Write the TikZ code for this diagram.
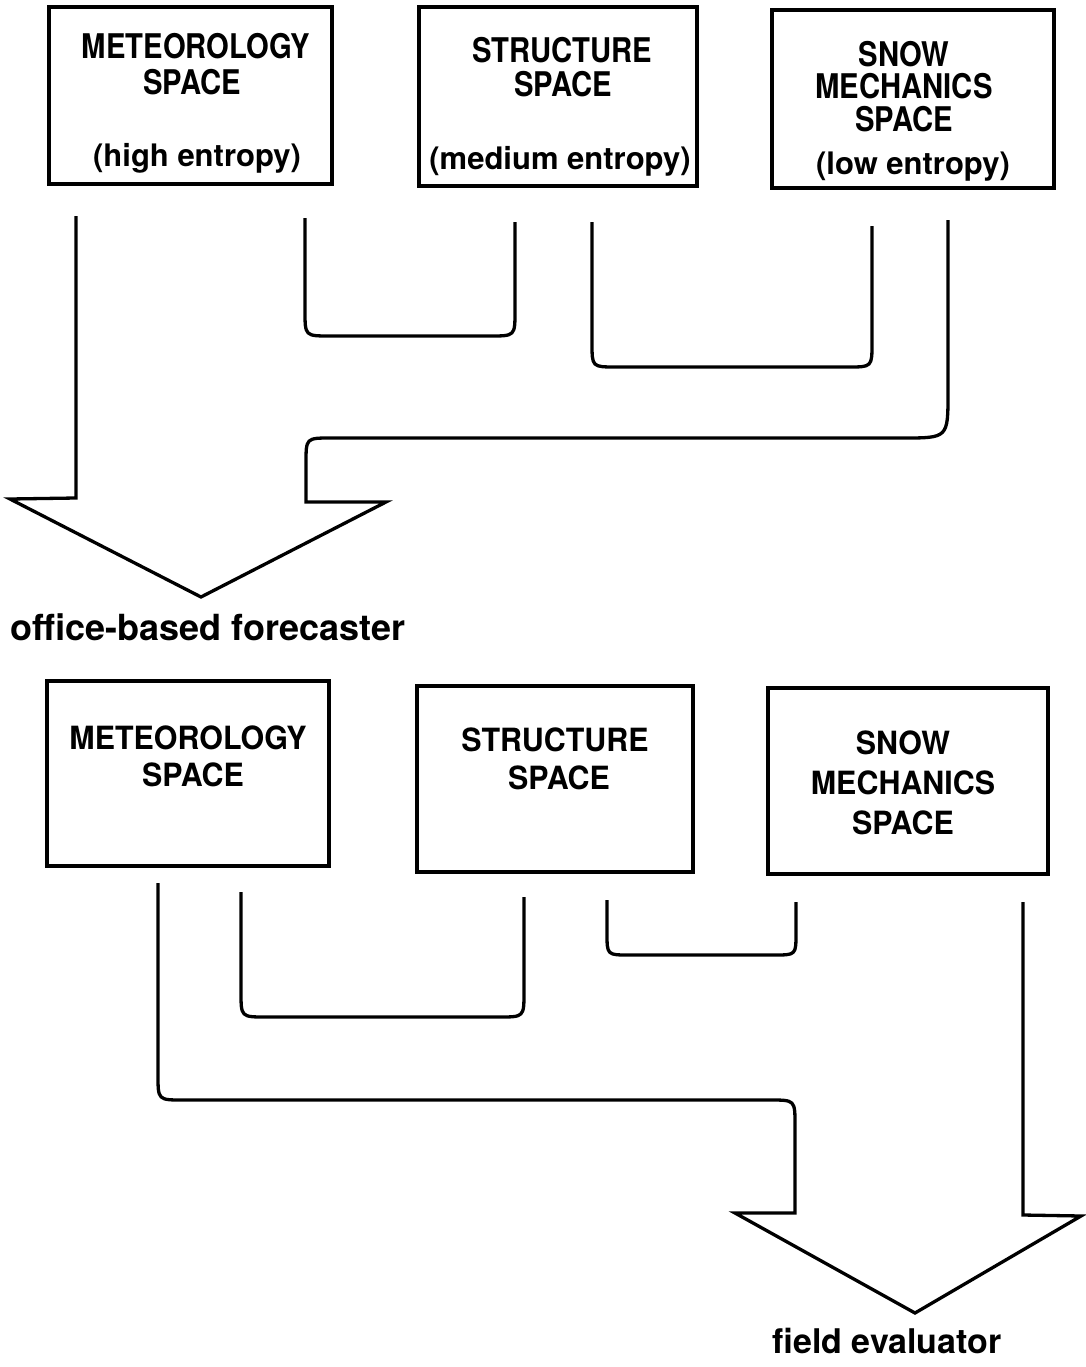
\documentclass[tikz,border=0pt]{standalone}
\usepackage{fontspec}
\setmainfont{TeX Gyre Heros}
\newfontfamily\capsA[FakeStretch=0.86]{TeX Gyre Heros}
\newfontfamily\capsB[FakeStretch=0.95]{TeX Gyre Heros}
\begin{document}
\begin{tikzpicture}[x=1pt,y=-1pt,
  box/.style={draw, line width=3.3pt, inner sep=0pt},
  capA/.style={font=\capsA\bfseries\fontsize{34}{32.5}\selectfont, inner sep=0pt, align=center},
  capB/.style={font=\capsB\bfseries\fontsize{32}{40}\selectfont, inner sep=0pt, align=center},
  lowtxt/.style={font=\bfseries\fontsize{31}{31}\selectfont, inner sep=0pt},
  role/.style={font=\bfseries\fontsize{36}{36}\selectfont, inner sep=0pt},
  conn/.style={draw, line width=3.3pt, line join=miter, line cap=butt}]
\useasboundingbox (0,0) rectangle (1085,1367);

% ---- top row boxes ----
\node[box, minimum width=283pt, minimum height=177pt] (b1) at (190.5,95.5) {};
\node[box, minimum width=278pt, minimum height=179pt] (b2) at (558,96.5) {};
\node[box, minimum width=282pt, minimum height=178pt] (b3) at (913,99) {};

\node[capA] (b1a) at (196,46) {METEOROLOGY};
\node[capA] (b1b) at (192,82) {SPACE};
\node[lowtxt] (b1c) at (197,158) {(high entropy)};

\node[capA] (b2a) at (562,50) {STRUCTURE};
\node[capA] (b2b) at (563,84) {SPACE};
\node[lowtxt] (b2c) at (560,161) {(medium entropy)};

\node[capA] (b3a) at (904,86.5) {SNOW\\MECHANICS\\SPACE};
\node[lowtxt] (b3d) at (913,167) {(low entropy)};

% ---- top connectors ----
\coordinate (mA) at (76,216);
\coordinate (sD) at (948,220);
\draw[conn] (mA) -- (76,498) -- (10,499) -- (201,597) -- (386,502) -- (306,502)
  -- (306,463) .. controls (306,438) .. (331,438) -- (903,438)
  .. controls (948,438) .. (948,393) -- (sD);

\coordinate (mB) at (305,218);
\coordinate (sB) at (515,222);
\draw[conn] (mB) -- (305,311) .. controls (305,336) .. (330,336) -- (490,336)
  .. controls (515,336) .. (515,311) -- (sB);

\coordinate (tC) at (592,222);
\coordinate (sC) at (872,226);
\draw[conn] (tC) -- (592,343) .. controls (592,367) .. (616,367) -- (848,367)
  .. controls (872,367) .. (872,343) -- (sC);

\node[role, anchor=west] (obf) at (10,627) {office-based forecaster};

% ---- bottom row boxes ----
\node[box, minimum width=282pt, minimum height=185pt] (b4) at (188,773.5) {};
\node[box, minimum width=276pt, minimum height=186pt] (b5) at (555,779) {};
\node[box, minimum width=280pt, minimum height=186pt] (b6) at (908,781) {};

\node[capB] (b4a) at (188,738) {METEOROLOGY};
\node[capB] (b4b) at (193,775) {SPACE};

\node[capB] (b5a) at (555,740) {STRUCTURE};
\node[capB] (b5b) at (559,778) {SPACE};

\node[capB] (b6a) at (903,783) {SNOW\\MECHANICS\\SPACE};

% ---- bottom connectors ----
\coordinate (mE) at (158,883);
\coordinate (sH) at (1023,902);
\draw[conn] (mE) -- (158,1075) .. controls (158,1100) .. (183,1100) -- (770,1100)
  .. controls (795,1100) .. (795,1125) -- (795,1213) -- (735,1213) -- (915,1313)
  -- (1081,1216) -- (1023,1215) -- (sH);

\coordinate (mF) at (241,892);
\coordinate (sF) at (524,897);
\draw[conn] (mF) -- (241,992) .. controls (241,1017) .. (266,1017) -- (499,1017)
  .. controls (524,1017) .. (524,992) -- (sF);

\coordinate (tG) at (607,900);
\coordinate (sG) at (796,902);
\draw[conn] (tG) -- (607,933) .. controls (607,955) .. (629,955) -- (774,955)
  .. controls (796,955) .. (796,933) -- (sG);

\node[role, font=\bfseries\fontsize{34}{34}\selectfont] (fe) at (887,1341) {field evaluator};
\end{tikzpicture}
\end{document}
